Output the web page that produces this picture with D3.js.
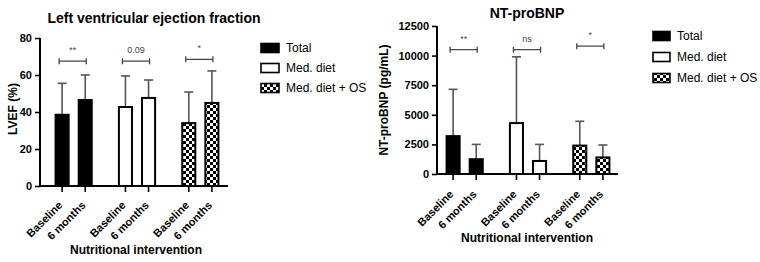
<!DOCTYPE html>
<html><head><meta charset="utf-8">
<script src="https://cdn.jsdelivr.net/npm/d3@7"></script>
<style>body{margin:0;background:#fff}svg{display:block;font-family:"Liberation Sans",Arial,sans-serif}</style>
</head><body><svg id="c" width="760" height="262"></svg>
<script>
const groups = ["Total", "Med. diet", "Med. diet + OS"];
const times = ["Baseline", "6 months"];
// LVEF (%) means and upper SD
const lvefMean = [[38.5, 46.5], [42.7, 47.6], [34, 44.9]];
const lvefUpper = [[55.5, 60], [59.5, 57.3], [50.8, 62.2]];
const lvefTicks = [0, 20, 40, 60, 80];
const lvefSig = ["**", "0.09", "*"];
// NT-proBNP (pg/mL)
const bnpMean = [[3200, 1250], [4300, 1100], [2400, 1400]];
const bnpUpper = [[7150, 2500], [9900, 2500], [4450, 2450]];
const bnpTicks = [0, 2500, 5000, 7500, 10000, 12500];
const bnpSig = ["**", "ns", "*"];

const svg = d3.select("#c");
const defs = svg.append("defs");
const pat = defs.append("pattern").attr("id","chk").attr("patternUnits","userSpaceOnUse")
  .attr("width",6).attr("height",6);
pat.append("rect").attr("width",6).attr("height",6).attr("fill","#fff");
pat.append("rect").attr("width",3).attr("height",3).attr("fill","#000");
pat.append("rect").attr("x",3).attr("y",3).attr("width",3).attr("height",3).attr("fill","#000");
const fills = ["#000", "#fff", "url(#chk)"];

function panel(o){
  const g = svg.append("g");
  const y = d3.scaleLinear().domain([0, o.ticks[o.ticks.length-1]]).range([o.y0, o.y1]);
  const x0 = d3.scaleBand().domain(groups).range(o.grange).padding(0);
  const x1 = d3.scaleBand().domain(times).range([0, x0.bandwidth()]).paddingInner(0.348).paddingOuter(0.544);
  // y axis
  const ya = g.append("g").attr("transform",`translate(${o.ax0},0)`)
    .call(d3.axisLeft(y).tickValues(o.ticks).tickFormat(d3.format("d")).tickSize(5).tickPadding(3).tickSizeOuter(0));
  ya.select(".domain").attr("stroke-width",2).attr("d",`M0,${o.y0+1}V${o.y1}`);
  ya.selectAll(".tick line").attr("stroke-width",1.6);
  ya.selectAll(".tick text").attr("font-size",11).attr("font-weight","bold").attr("font-family","Liberation Sans, Arial");
  // bars
  groups.forEach((gr, gi) => {
    times.forEach((t, ti) => {
      const bx = x0(gr) + x1(t), bw = x1.bandwidth(), cx = bx + bw/2;
      const top = y(o.mean[gi][ti]), up = y(o.upper[gi][ti]);
      g.append("line").attr("x1",cx).attr("x2",cx).attr("y1",top).attr("y2",up)
        .attr("stroke","#555").attr("stroke-width",1.6);
      g.append("line").attr("x1",cx-4.5).attr("x2",cx+4.5).attr("y1",up).attr("y2",up)
        .attr("stroke","#555").attr("stroke-width",1.6);
      g.append("rect").attr("x",bx+1).attr("y",top).attr("width",bw-2).attr("height",o.y0-top)
        .attr("fill",fills[gi]).attr("stroke","#000").attr("stroke-width",2);
      // x tick
      g.append("line").attr("x1",cx).attr("x2",cx).attr("y1",o.y0).attr("y2",o.y0+6)
        .attr("stroke","#000").attr("stroke-width",1.6);
      g.append("text").attr("transform",`translate(${cx+1},${o.y0+o.lblOff}) rotate(-45)`)
        .attr("text-anchor","end").attr("font-size",11).attr("font-weight","bold").text(t);
    });
    // significance bracket
    const xa = x0(gr) + x1(times[0]) + x1.bandwidth()/2 - 3, xb = x0(gr) + x1(times[1]) + x1.bandwidth()/2 + 1;
    const by = y(o.sigY[gi]);
    g.append("path").attr("d",`M${xa},${by-3}V${by+3}M${xa},${by}H${xb}M${xb},${by-3}V${by+3}`)
      .attr("stroke","#444").attr("stroke-width",1.3).attr("fill","none");
    g.append("text").attr("x",(xa+xb)/2).attr("y",by-8).attr("text-anchor","middle")
      .attr("font-size",9).attr("fill","#444").text(o.sig[gi]);
  });
  // x axis line
  g.append("line").attr("x1",o.ax0-1).attr("x2",o.ax1).attr("y1",o.y0).attr("y2",o.y0)
    .attr("stroke","#000").attr("stroke-width",2);
  // titles
  g.append("text").attr("x",o.tx).attr("y",o.ty).attr("text-anchor","middle")
    .attr("font-size",14).attr("font-weight","bold").text(o.title);
  g.append("text").attr("x",o.xlx).attr("y",o.xly).attr("text-anchor","middle")
    .attr("font-size",12).attr("font-weight","bold").text("Nutritional intervention");
  g.append("text").attr("transform",`translate(${o.ylx},${o.yly}) rotate(-90)`).attr("text-anchor","middle")
    .attr("font-size",12).attr("font-weight","bold").text(o.ylabel);
  // legend
  groups.forEach((gr, gi) => {
    const ly = o.ly + gi*o.lstep;
    g.append("rect").attr("x",o.lx).attr("y",ly-4.5).attr("width",o.lw).attr("height",9)
      .attr("fill",fills[gi]).attr("stroke","#000").attr("stroke-width",1.6);
    g.append("text").attr("x",o.lx+o.lw+7).attr("y",ly).attr("dy","0.35em").attr("font-size",12).text(gr);
  });
}

panel({mean:lvefMean, upper:lvefUpper, ticks:lvefTicks, sig:lvefSig, sigY:[67.5,67.5,68.5],
  y0:186, y1:38, ax0:40, ax1:228, grange:[42,232], lblOff:20,
  title:"Left ventricular ejection fraction", tx:154, ty:23,
  xlx:136, xly:254, ylabel:"LVEF (%)", ylx:17, yly:109,
  lx:261, lw:18, ly:48, lstep:20});
panel({mean:bnpMean, upper:bnpUpper, ticks:bnpTicks, sig:bnpSig, sigY:[10500,10500,10800],
  y0:174, y1:26, ax0:437, ax1:618, grange:[433,623], lblOff:21,
  title:"NT-proBNP", tx:527, ty:18,
  xlx:527, xly:242, ylabel:"NT-proBNP (pg/mL)", ylx:388, yly:100,
  lx:653, lw:17, ly:36, lstep:21});
</script></body></html>
